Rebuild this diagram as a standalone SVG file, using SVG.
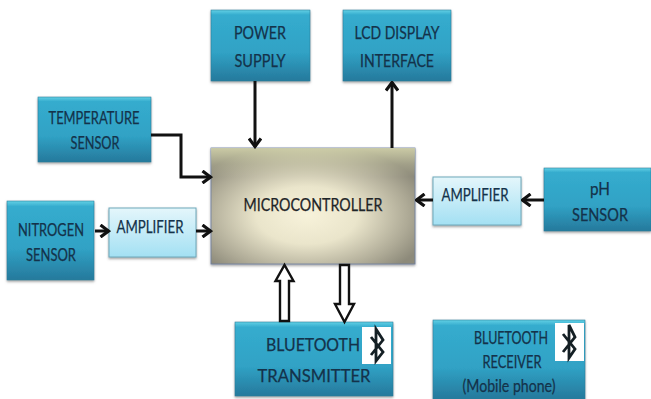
<svg xmlns="http://www.w3.org/2000/svg" width="651" height="399" viewBox="0 0 651 399">
<style>
text{font-family:Lato,"Open Sans","Liberation Sans",sans-serif;fill:#14324a;stroke:#14324a;stroke-width:.25;text-anchor:middle;font-size:18px}
.blue{fill:url(#blue);stroke:#2b7f9c;stroke-width:.6;filter:url(#sh)}
.amp{fill:url(#light);stroke:#6fa9bb;stroke-width:1;filter:url(#sh)}
.line{fill:none;stroke:#111;stroke-width:3}
.hollow{fill:#fff;stroke:#111;stroke-width:2.4;stroke-linejoin:miter}
.bt{fill:none;stroke:#141f24;stroke-width:2.8}
</style>
<defs>
<linearGradient id="blue" x1="0" y1="0" x2="0" y2="1">
<stop offset="0" stop-color="#62d0e5"/><stop offset=".07" stop-color="#35acce"/><stop offset=".6" stop-color="#30a2c5"/><stop offset="1" stop-color="#26799c"/>
</linearGradient>
<linearGradient id="light" x1="0" y1="0" x2="0" y2="1">
<stop offset="0" stop-color="#e4f6fb"/><stop offset="1" stop-color="#a3e0f3"/>
</linearGradient>
<radialGradient id="mc" cx=".47" cy=".58" r=".62">
<stop offset="0" stop-color="#f7f2da"/><stop offset=".4" stop-color="#eae5cb"/><stop offset=".8" stop-color="#aeaa96"/><stop offset="1" stop-color="#8d8a7a"/>
</radialGradient>
<linearGradient id="sheen" x1="0" y1="0" x2="0" y2="1">
<stop offset="0" stop-color="#dfe0b4" stop-opacity=".75"/><stop offset=".14" stop-color="#dfe0b4" stop-opacity=".25"/><stop offset=".25" stop-color="#dfe0b4" stop-opacity="0"/>
</linearGradient>
<filter id="sh" x="-10%" y="-10%" width="120%" height="125%">
<feDropShadow dx="0" dy="1.5" stdDeviation="1.3" flood-color="#555" flood-opacity=".55"/>
</filter>
<marker id="ah" viewBox="0 0 14 14" refX="12.500" refY="7" markerWidth="14" markerHeight="14" markerUnits="userSpaceOnUse" orient="auto">
<path d="M4 1 L12 7 L4 13" fill="none" stroke="#111" stroke-width="3.200"/>
</marker>
</defs>
<rect width="651" height="399" fill="#fff"/>
<g id="microcontroller"><rect x="211" y="148" width="204" height="116" fill="url(#mc)" stroke="#6d7da0" stroke-width=".8" filter="url(#sh)"/><rect x="211" y="148" width="204" height="116" fill="url(#sheen)"/><text x="313" y="211" textLength="139" lengthAdjust="spacingAndGlyphs" style="fill:#1f2528;stroke:#1f2528">MICROCONTROLLER</text></g>
<g id="power-supply"><rect class="blue" x="211" y="10" width="99" height="71"/><text x="260" y="39" textLength="52" lengthAdjust="spacingAndGlyphs">POWER</text><text x="260" y="67" textLength="51" lengthAdjust="spacingAndGlyphs">SUPPLY</text></g>
<g id="lcd-display"><rect class="blue" x="343" y="10" width="108" height="71"/><text x="397" y="39" textLength="85" lengthAdjust="spacingAndGlyphs">LCD DISPLAY</text><text x="397" y="67" textLength="74" lengthAdjust="spacingAndGlyphs">INTERFACE</text></g>
<g id="temperature-sensor"><rect class="blue" x="38" y="97" width="113" height="65"/><text x="94" y="124" textLength="91" lengthAdjust="spacingAndGlyphs">TEMPERATURE</text><text x="95" y="149" textLength="49" lengthAdjust="spacingAndGlyphs">SENSOR</text></g>
<g id="nitrogen-sensor"><rect class="blue" x="7" y="201" width="87" height="79"/><text x="51" y="236" textLength="66" lengthAdjust="spacingAndGlyphs">NITROGEN</text><text x="51" y="261" textLength="50" lengthAdjust="spacingAndGlyphs">SENSOR</text></g>
<g id="amplifier-left"><rect class="amp" x="109" y="208" width="87" height="49"/><text x="150" y="233" textLength="67" lengthAdjust="spacingAndGlyphs">AMPLIFIER</text></g>
<g id="amplifier-right"><rect class="amp" x="433" y="177" width="88" height="48"/><text x="475" y="201" textLength="67" lengthAdjust="spacingAndGlyphs">AMPLIFIER</text></g>
<g id="ph-sensor"><rect class="blue" x="544" y="168" width="107" height="63"/><text x="600" y="195" font-size="19" textLength="20" lengthAdjust="spacingAndGlyphs">pH</text><text x="600" y="221" textLength="56" lengthAdjust="spacingAndGlyphs">SENSOR</text></g>
<g id="bluetooth-transmitter"><rect class="blue" x="235" y="322" width="158" height="74"/><text x="313" y="351" font-size="20" textLength="94" lengthAdjust="spacingAndGlyphs">BLUETOOTH</text><text x="314" y="382" font-size="20" textLength="113" lengthAdjust="spacingAndGlyphs">TRANSMITTER</text><rect x="362" y="327" width="29" height="37" fill="#fff"/><path class="bt" d="M371 337 L383 352 L376 361 L376 329 L383 340 L371 355"/></g>
<g id="bluetooth-receiver"><rect class="blue" x="433" y="320" width="152" height="79"/><text x="511" y="344" font-size="17" textLength="74" lengthAdjust="spacingAndGlyphs">BLUETOOTH</text><text x="512" y="368" font-size="17" textLength="59" lengthAdjust="spacingAndGlyphs">RECEIVER</text><text x="509" y="392" font-size="17" textLength="93" lengthAdjust="spacingAndGlyphs">(Mobile phone)</text><rect x="555" y="323" width="29" height="38" fill="#fff"/><path class="bt" d="M563 334 L575 349 L569 358 L569 325 L575 337 L563 352"/></g>
<g id="connectors">
<path class="line" marker-end="url(#ah)" d="M255 81 V147"/>
<path class="line" marker-end="url(#ah)" d="M392 148 V82"/>
<path class="line" marker-end="url(#ah)" d="M151 135 H181 V177 H211"/>
<path class="line" marker-end="url(#ah)" d="M95 231 H109"/>
<path class="line" marker-end="url(#ah)" d="M196 231 H211"/>
<path class="line" marker-end="url(#ah)" d="M433 200 H416"/>
<path class="line" marker-end="url(#ah)" d="M544 200 H522"/>
<path class="hollow" d="M280 321 V281 H275.500 L284.500 265 L293.500 281 H289 V321 Z"/>
<path class="hollow" d="M340 265 H349 V304 H354 L344.500 322 L335 304 H340 Z"/>
</g>
</svg>
